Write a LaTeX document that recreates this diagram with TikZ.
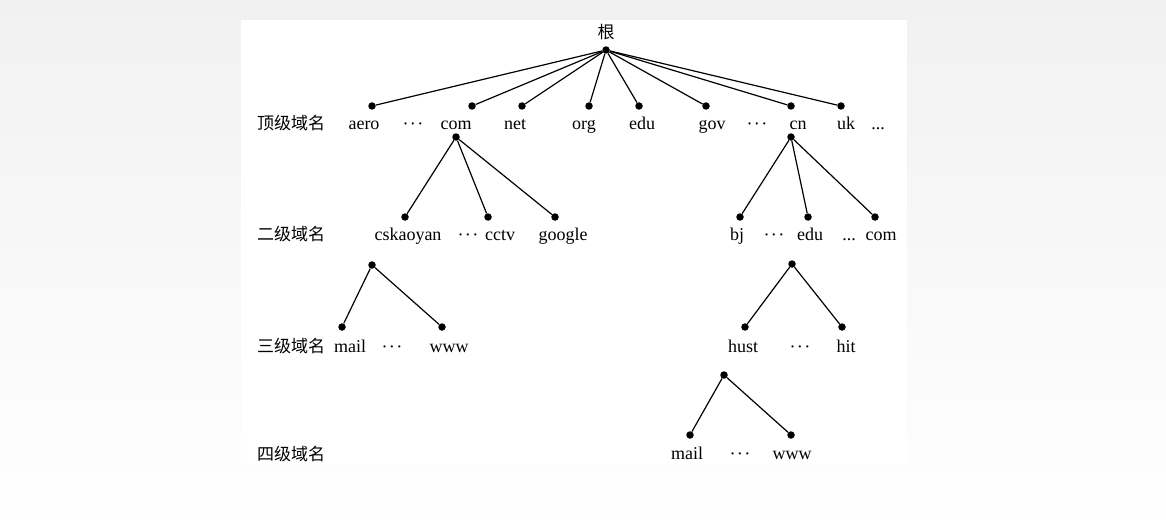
\documentclass[tikz,border=0pt]{standalone}
\usepackage{fontspec}
\setmainfont{Liberation Serif}
\newfontfamily\cjk{Noto Sans CJK SC}
\begin{document}
\begin{tikzpicture}[x=1pt, y=-1pt,
    dot/.style={circle, fill=black, inner sep=0pt, minimum size=7.5pt},
    lbl/.style={anchor=base, inner sep=0pt, font=\fontsize{18}{20}\selectfont},
    cdts/.style={lbl, font=\fontsize{14}{16}\selectfont\boldmath, yshift=1.5pt},
    level/.style={lbl, font=\fontsize{17}{20}\selectfont\cjk},
    edge/.style={line width=1.2pt}]
    \definecolor{mybackcol}{RGB}{241,241,241}

    \useasboundingbox (0,0) rectangle (1166,532);
    \shade[top color=mybackcol, bottom color=white] (0,0) rectangle (1166,532);
    \fill[white] (241,20) rectangle (907,465);

    \node[level] (root-l) at (606,39) {根};
    \node[level] (lv1) at (291,129) {顶级域名};
    \node[level] (lv2) at (291,240) {二级域名};
    \node[level] (lv3) at (291,352) {三级域名};
    \node[level] (lv4) at (291,460) {四级域名};

    \node[dot] (root) at (606,50) {};

    \node[dot] (aero) at (372,106) {};
    \node[dot] (com) at (472,106) {};
    \node[dot] (net) at (522,106) {};
    \node[dot] (org) at (589,106) {};
    \node[dot] (edu) at (639,106) {};
    \node[dot] (gov) at (706,106) {};
    \node[dot] (cn) at (791,106) {};
    \node[dot] (uk) at (841,106) {};
    \foreach \n in {aero,com,net,org,edu,gov,cn,uk}
        \draw[edge] (root) -- (\n);

    \node[lbl] (aero-l) at (364,129) {aero};
    \node[cdts] (dots1a) at (413,129) {$\cdots$};
    \node[lbl] (com-l) at (456,129) {com};
    \node[lbl] (net-l) at (515,129) {net};
    \node[lbl] (org-l) at (584,129) {org};
    \node[lbl] (edu-l) at (642,129) {edu};
    \node[lbl] (gov-l) at (712,129) {gov};
    \node[cdts] (dots1b) at (757,129) {$\cdots$};
    \node[lbl] (cn-l) at (798,129) {cn};
    \node[lbl] (uk-l) at (846,129) {uk};
    \node[lbl] (dots1c) at (878,129) {...};

    \node[dot] (com-t) at (456,137) {};
    \node[dot] (cskaoyan) at (405,217) {};
    \node[dot] (cctv) at (488,217) {};
    \node[dot] (google) at (555,217) {};
    \foreach \n in {cskaoyan,cctv,google}
        \draw[edge] (com-t) -- (\n);
    \node[lbl] (cskaoyan-l) at (408,240) {cskaoyan};
    \node[cdts] (dots2a) at (468,240) {$\cdots$};
    \node[lbl] (cctv-l) at (500,240) {cctv};
    \node[lbl] (google-l) at (563,240) {google};

    \node[dot] (cn-t) at (791,137) {};
    \node[dot] (bj) at (740,217) {};
    \node[dot] (cnedu) at (808,217) {};
    \node[dot] (cncom) at (875,217) {};
    \foreach \n in {bj,cnedu,cncom}
        \draw[edge] (cn-t) -- (\n);
    \node[lbl] (bj-l) at (737,240) {bj};
    \node[cdts] (dots2b) at (774,240) {$\cdots$};
    \node[lbl] (cnedu-l) at (810,240) {edu};
    \node[lbl] (dots2c) at (849,240) {...};
    \node[lbl] (cncom-l) at (881,240) {com};

    \node[dot] (ck-t) at (372,265) {};
    \node[dot] (mail3) at (342,327) {};
    \node[dot] (www3) at (442,327) {};
    \draw[edge] (ck-t) -- (mail3);
    \draw[edge] (ck-t) -- (www3);
    \node[lbl] (mail3-l) at (350,352) {mail};
    \node[cdts] (dots3a) at (392,352) {$\cdots$};
    \node[lbl] (www3-l) at (449,352) {www};

    \node[dot] (edu-t) at (792,264) {};
    \node[dot] (hust) at (745,327) {};
    \node[dot] (hit) at (842,327) {};
    \draw[edge] (edu-t) -- (hust);
    \draw[edge] (edu-t) -- (hit);
    \node[lbl] (hust-l) at (743,352) {hust};
    \node[cdts] (dots3b) at (800,352) {$\cdots$};
    \node[lbl] (hit-l) at (846,352) {hit};

    \node[dot] (hust-t) at (724,375) {};
    \node[dot] (mail4) at (690,435) {};
    \node[dot] (www4) at (791,435) {};
    \draw[edge] (hust-t) -- (mail4);
    \draw[edge] (hust-t) -- (www4);
    \node[lbl] (mail4-l) at (687,459) {mail};
    \node[cdts] (dots4) at (740,459) {$\cdots$};
    \node[lbl] (www4-l) at (792,459) {www};
\end{tikzpicture}
\end{document}
